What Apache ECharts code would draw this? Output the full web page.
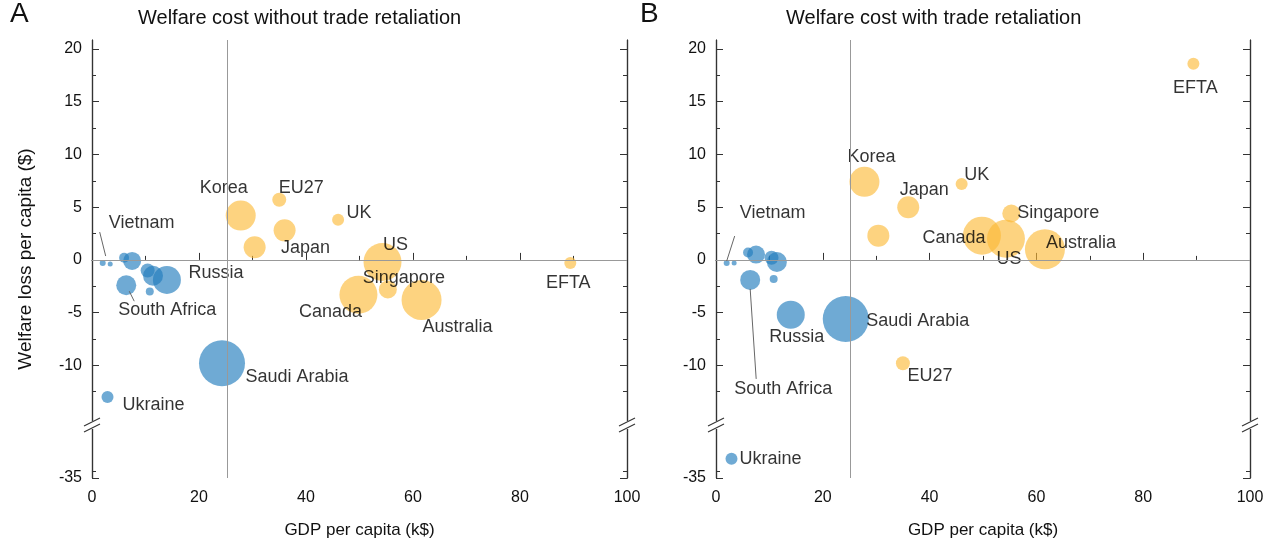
<!DOCTYPE html>
<html><head><meta charset="utf-8">
<script src="https://cdn.jsdelivr.net/npm/echarts@6/dist/echarts.min.js"></script>
<style>html,body{margin:0;padding:0;background:#fff}#c{width:1280px;height:545px}</style>
</head><body><div id="c"></div>
<script>
// ---- data ----
const countries = ['Vietnam','VN-b','Ukraine','C1','C2','South Africa','C3','C4','C5','Russia','Saudi Arabia',
  'Korea','C6','EU27','Japan','UK','Canada','US','Singapore','Australia','EFTA'];
const gdpPerCapita = [2.0,3.4,2.9,6.0,7.5,6.4,10.4,11.4,10.8,14.0,24.3,27.8,30.4,35.0,36.0,46.0,49.8,54.3,55.3,61.6,89.4];
const bubbleWeight = [3,2.5,6,5,9,10,7,10,4,14,23,15,11,7,11,6,19,19,9,20,6];
const lossNoRetaliation = [-0.3,-0.4,-13.0,0.2,-0.1,-2.4,-1.0,-1.5,-3.0,-1.9,-9.8,4.2,1.2,5.7,2.8,3.8,-3.3,-0.2,-2.8,-3.8,-0.3];
const lossRetaliation = [-0.3,-0.3,-27.6,0.7,0.5,-1.9,0.2,-0.2,-1.8,-5.2,-5.6,7.4,2.3,-9.8,5.0,7.2,2.3,2.0,4.4,1.0,18.6];
const group = ['b','b','b','b','b','b','b','b','b','b','b','o','o','o','o','o','o','o','o','o','o'];
const yTickLabels = [20,15,10,5,0,-5,-10,-35];
const xTickLabels = [0,20,40,60,80,100];
const avgGdp = 25.2;

// ---- layout (pixel offsets of labels) ----
const offA = {'Vietnam':[39,-40],'Korea':[-17,-28],'EU27':[22,-12],'UK':[21,-7],'Japan':[21,18],'US':[13,-17],
 'Singapore':[16,-11],'Canada':[-28,17],'Australia':[36,27],'EFTA':[-2,20],'Russia':[49,-7],'South Africa':[41,25],
 'Saudi Arabia':[75,14],'Ukraine':[46,8]};
const offB = {'Vietnam':[46,-50],'Korea':[7,-25],'UK':[15,-9],'Japan':[16,-17],'Singapore':[47,0],'Canada':[-28,2],
 'US':[3,20],'Australia':[36,-6],'EFTA':[2,24],'EU27':[27,13],'Russia':[6,22],'Saudi Arabia':[72,2],
 'South Africa':[33,109],'Ukraine':[39,0]};
const leaderA = {'Vietnam':[[3,-7],[-3,-31]],'South Africa':[[3,6],[8,16]]};
const leaderB = {'Vietnam':[[0,-2],[8,-27]],'South Africa':[[0,9],[6,99]]};

const BREAK = -16, YMIN = -20.68, YMAX = 20.85, REAL_MIN = -35;
const fy = v => v >= BREAK ? v : BREAK + (v - BREAK) * ((YMIN - BREAK) / (REAL_MIN - BREAK));
const majorY = yTickLabels.map(fy);
const minorY = [];
for (let v = 17.5; v > -15; v -= 5) minorY.push(v);
minorY.push(fy(-32.5));
const COL = {b:'rgba(35,125,190,0.82)', o:'rgba(251,184,52,0.78)'};
const FONT = 'Liberation Sans, Arial, sans-serif';

const chart = echarts.init(document.getElementById('c'));
const grids = [{left:92,right:653,top:40,bottom:67},{left:716,right:30,top:40,bottom:67}];

function yAxes(gi){
  const mk = (pos, vals, len, labels) => ({
    type:'value', gridIndex:gi, position:pos, min:YMIN, max:YMAX, splitLine:{show:false},
    axisLine:{show:true,lineStyle:{color:'#333',width:1.2}},
    axisTick:{show:true,inside:true,length:len,customValues:vals,lineStyle:{color:'#333'}},
    axisLabel:{show:labels,customValues:majorY,fontSize:16,color:'#111',fontFamily:FONT,margin:10,
      formatter:v=> v < BREAK-1 ? String(REAL_MIN) : String(Math.round(v))},
    name: (labels && gi===0) ? 'Welfare loss per capita ($)' : '', nameLocation:'middle', nameGap:57,
    nameTextStyle:{fontSize:19,color:'#111',fontFamily:FONT}
  });
  return [mk('left',majorY,7,true), mk('left',minorY,4,false), mk('right',majorY,7,false), mk('right',minorY,4,false)];
}
function xAxis(gi){
  return {type:'value',gridIndex:gi,min:0,max:100,interval:20,splitLine:{show:false},
    axisLine:{show:true,lineStyle:{color:'#333',width:1.2}},
    axisTick:{inside:true,length:7,lineStyle:{color:'#333'}},
    minorTick:{show:true,splitNumber:2,length:4,lineStyle:{color:'#333'}},
    axisLabel:{fontSize:16,color:'#111',fontFamily:FONT,margin:12},
    name:'GDP per capita (k$)',nameLocation:'middle',nameGap:44,
    nameTextStyle:{fontSize:17,color:'#111',fontFamily:FONT}};
}
function series(gi, loss, off){
  return {type:'scatter', xAxisIndex:gi, yAxisIndex:gi*4,
    data: countries.map((n,i)=>({name:n, value:[gdpPerCapita[i], fy(loss[i])], symbolSize:2*bubbleWeight[i],
      itemStyle:{color:COL[group[i]]},
      label:{show:!!off[n], formatter:n, position:'inside', offset:off[n]||[0,0], fontSize:18, color:'#000', fontFamily:FONT}})),
    markLine:{silent:true,symbol:'none',label:{show:false},lineStyle:{color:'#999',width:1,type:'solid'},
      data:[{xAxis:avgGdp},{yAxis:0}]},
    z:3};
}
chart.setOption({
  animation:false,
  grid:grids,
  xAxis:[xAxis(0),xAxis(1)],
  yAxis:[...yAxes(0),...yAxes(1)],
  series:[series(0,lossNoRetaliation,offA),series(1,lossRetaliation,offB)]
});
const extra = [
  {type:'text',left:10,top:0,style:{text:'A',fontSize:28,fill:'#111',fontFamily:FONT}},
  {type:'text',left:138,top:8,style:{text:'Welfare cost without trade retaliation',fontSize:20,fill:'#111',fontFamily:FONT}},
  {type:'text',left:640,top:0,style:{text:'B',fontSize:28,fill:'#111',fontFamily:FONT}},
  {type:'text',left:786,top:8,style:{text:'Welfare cost with trade retaliation',fontSize:20,fill:'#111',fontFamily:FONT}}
];
[0,1].forEach(gi=>{
  [0,100].forEach(xv=>{
    const p = chart.convertToPixel({xAxisIndex:gi,yAxisIndex:gi*4},[xv,-15.65]);
    extra.push({type:'rect',shape:{x:p[0]-8,y:p[1]-4,width:16,height:8},style:{fill:'#fff'},z:100});
    [-3,3].forEach(d=>extra.push({type:'line',shape:{x1:p[0]-8,y1:p[1]+d+4,x2:p[0]+8,y2:p[1]+d-4},style:{stroke:'#333',lineWidth:1.2},z:101}));
  });
  const loss = gi? lossRetaliation : lossNoRetaliation;
  const L = gi? leaderB : leaderA;
  Object.keys(L).forEach(n=>{
    const i = countries.indexOf(n);
    const p = chart.convertToPixel({xAxisIndex:gi,yAxisIndex:gi*4},[gdpPerCapita[i], fy(loss[i])]);
    const [a,b] = L[n];
    extra.push({type:'line',shape:{x1:p[0]+a[0],y1:p[1]+a[1],x2:p[0]+b[0],y2:p[1]+b[1]},style:{stroke:'#666',lineWidth:1},z:50});
  });
});
chart.setOption({graphic:extra});
</script></body></html>
